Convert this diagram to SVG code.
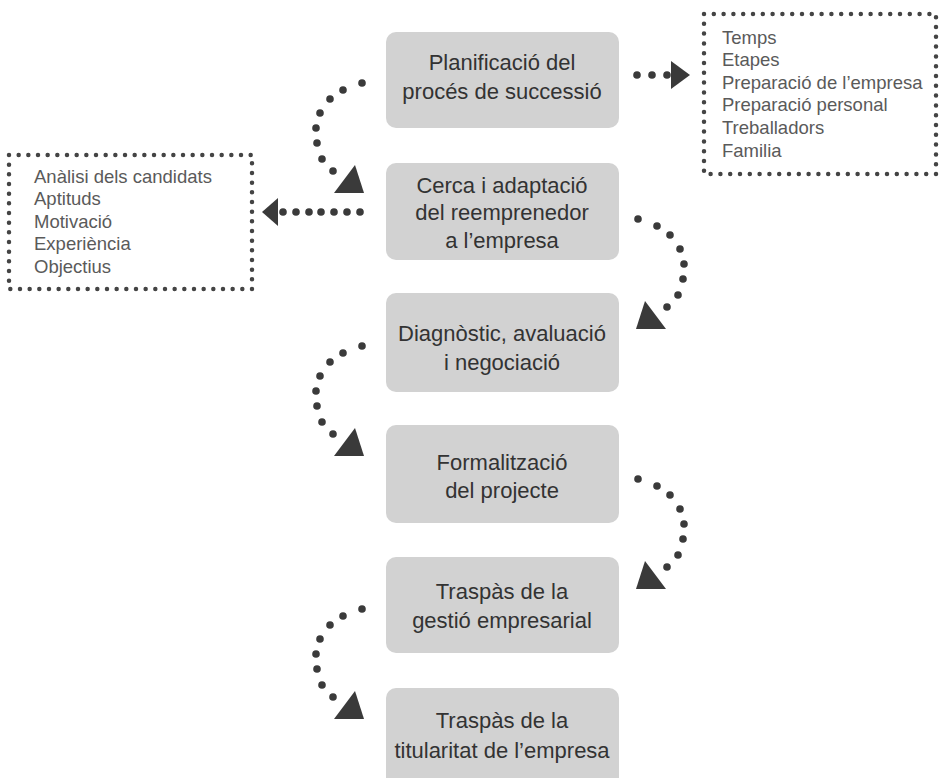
<svg xmlns="http://www.w3.org/2000/svg" width="939" height="778" viewBox="0 0 939 778">
<style>
.node rect{fill:#d2d2d2;}
.node text{font-family:"Liberation Sans",Arial,sans-serif;font-size:22px;fill:#333;text-anchor:middle;}
.list text{font-family:"Liberation Sans",Arial,sans-serif;font-size:18.5px;fill:#5a5a5a;}
.border{fill:none;stroke:#444;stroke-width:4.5;stroke-linecap:round;}
.dots{fill:none;stroke:none;marker-start:url(#dot);marker-mid:url(#dot);marker-end:url(#dot);}
.head{fill:#3a3a3a;}
</style>
<defs>
<marker id="dot" markerUnits="userSpaceOnUse" markerWidth="10" markerHeight="10" refX="5" refY="5" viewBox="0 0 10 10" overflow="visible"><circle cx="5" cy="5" r="3.8" fill="#3a3a3a"/></marker>
</defs>
<rect width="939" height="778" fill="#fff"/>

<g id="n1" class="node"><rect x="386" y="32" width="233" height="96" rx="10"/><text x="502" y="70">Planificació del</text><text x="502" y="99">procés de successió</text></g>
<g id="n2" class="node"><rect x="386" y="163" width="233" height="97" rx="10"/><text x="502" y="193">Cerca i adaptació</text><text x="502" y="220">del reemprenedor</text><text x="502" y="248">a l’empresa</text></g>
<g id="n3" class="node"><rect x="386" y="293" width="233" height="99" rx="10"/><text x="502" y="341">Diagnòstic, avaluació</text><text x="502" y="370">i negociació</text></g>
<g id="n4" class="node"><rect x="386" y="425" width="233" height="98" rx="10"/><text x="502" y="470">Formalització</text><text x="502" y="498">del projecte</text></g>
<g id="n5" class="node"><rect x="386" y="557" width="233" height="96" rx="10"/><text x="502" y="599">Traspàs de la</text><text x="502" y="628">gestió empresarial</text></g>
<g id="n6" class="node"><rect x="386" y="688" width="233" height="100" rx="10"/><text x="502" y="728">Traspàs de la</text><text x="502" y="758">titularitat de l’empresa</text></g>

<g id="listR" class="list"><rect class="border" x="704" y="14" width="232" height="160" stroke-dasharray="0 9.8"/>
<text x="722" y="43.5">Temps</text><text x="722" y="66">Etapes</text><text x="722" y="88.5">Preparació de l’empresa</text><text x="722" y="111">Preparació personal</text><text x="722" y="134">Treballadors</text><text x="722" y="156.5">Familia</text></g>

<g id="listL" class="list"><rect class="border" x="9" y="155" width="243" height="134" stroke-dasharray="0 9.667"/>
<text x="34" y="182.5">Anàlisi dels candidats</text><text x="34" y="205">Aptituds</text><text x="34" y="227.5">Motivació</text><text x="34" y="250">Experiència</text><text x="34" y="272.5">Objectius</text></g>

<g id="connectors">
<g id="c-n1-listR"><path class="dots" d="M637,75 L652,75 L667,75"/><polygon class="head" points="671,61 690,75 671,89"/></g>
<g id="c-n2-listL"><path class="dots" d="M360,212 L347,212 L334,212 L321,212 L309,212 L296,212 L283,212"/><polygon class="head" points="262,212 278,198 278,226"/></g>
<g id="c-n1-n2" transform="translate(362,83)"><path class="dots" d="M0,0 L-19,7 L-32,16 L-42,30 L-46,45 L-45,60 L-40,76 L-29,88"/><polygon class="head" points="-7,82 -28,110 2,110"/></g>
<g id="c-n2-n3" transform="translate(638,219) scale(-1,1)"><path class="dots" d="M0,0 L-19,7 L-32,16 L-42,30 L-46,45 L-45,60 L-40,76 L-29,88"/><polygon class="head" points="-7,82 -28,110 2,110"/></g>
<g id="c-n3-n4" transform="translate(362,346)"><path class="dots" d="M0,0 L-19,7 L-32,16 L-42,30 L-46,45 L-45,60 L-40,76 L-29,88"/><polygon class="head" points="-7,82 -28,110 2,110"/></g>
<g id="c-n4-n5" transform="translate(638,479) scale(-1,1)"><path class="dots" d="M0,0 L-19,7 L-32,16 L-42,30 L-46,45 L-45,60 L-40,76 L-29,88"/><polygon class="head" points="-7,82 -28,110 2,110"/></g>
<g id="c-n5-n6" transform="translate(362,609)"><path class="dots" d="M0,0 L-19,7 L-32,16 L-42,30 L-46,45 L-45,60 L-40,76 L-29,88"/><polygon class="head" points="-7,82 -28,110 2,110"/></g>
</g>
</svg>
